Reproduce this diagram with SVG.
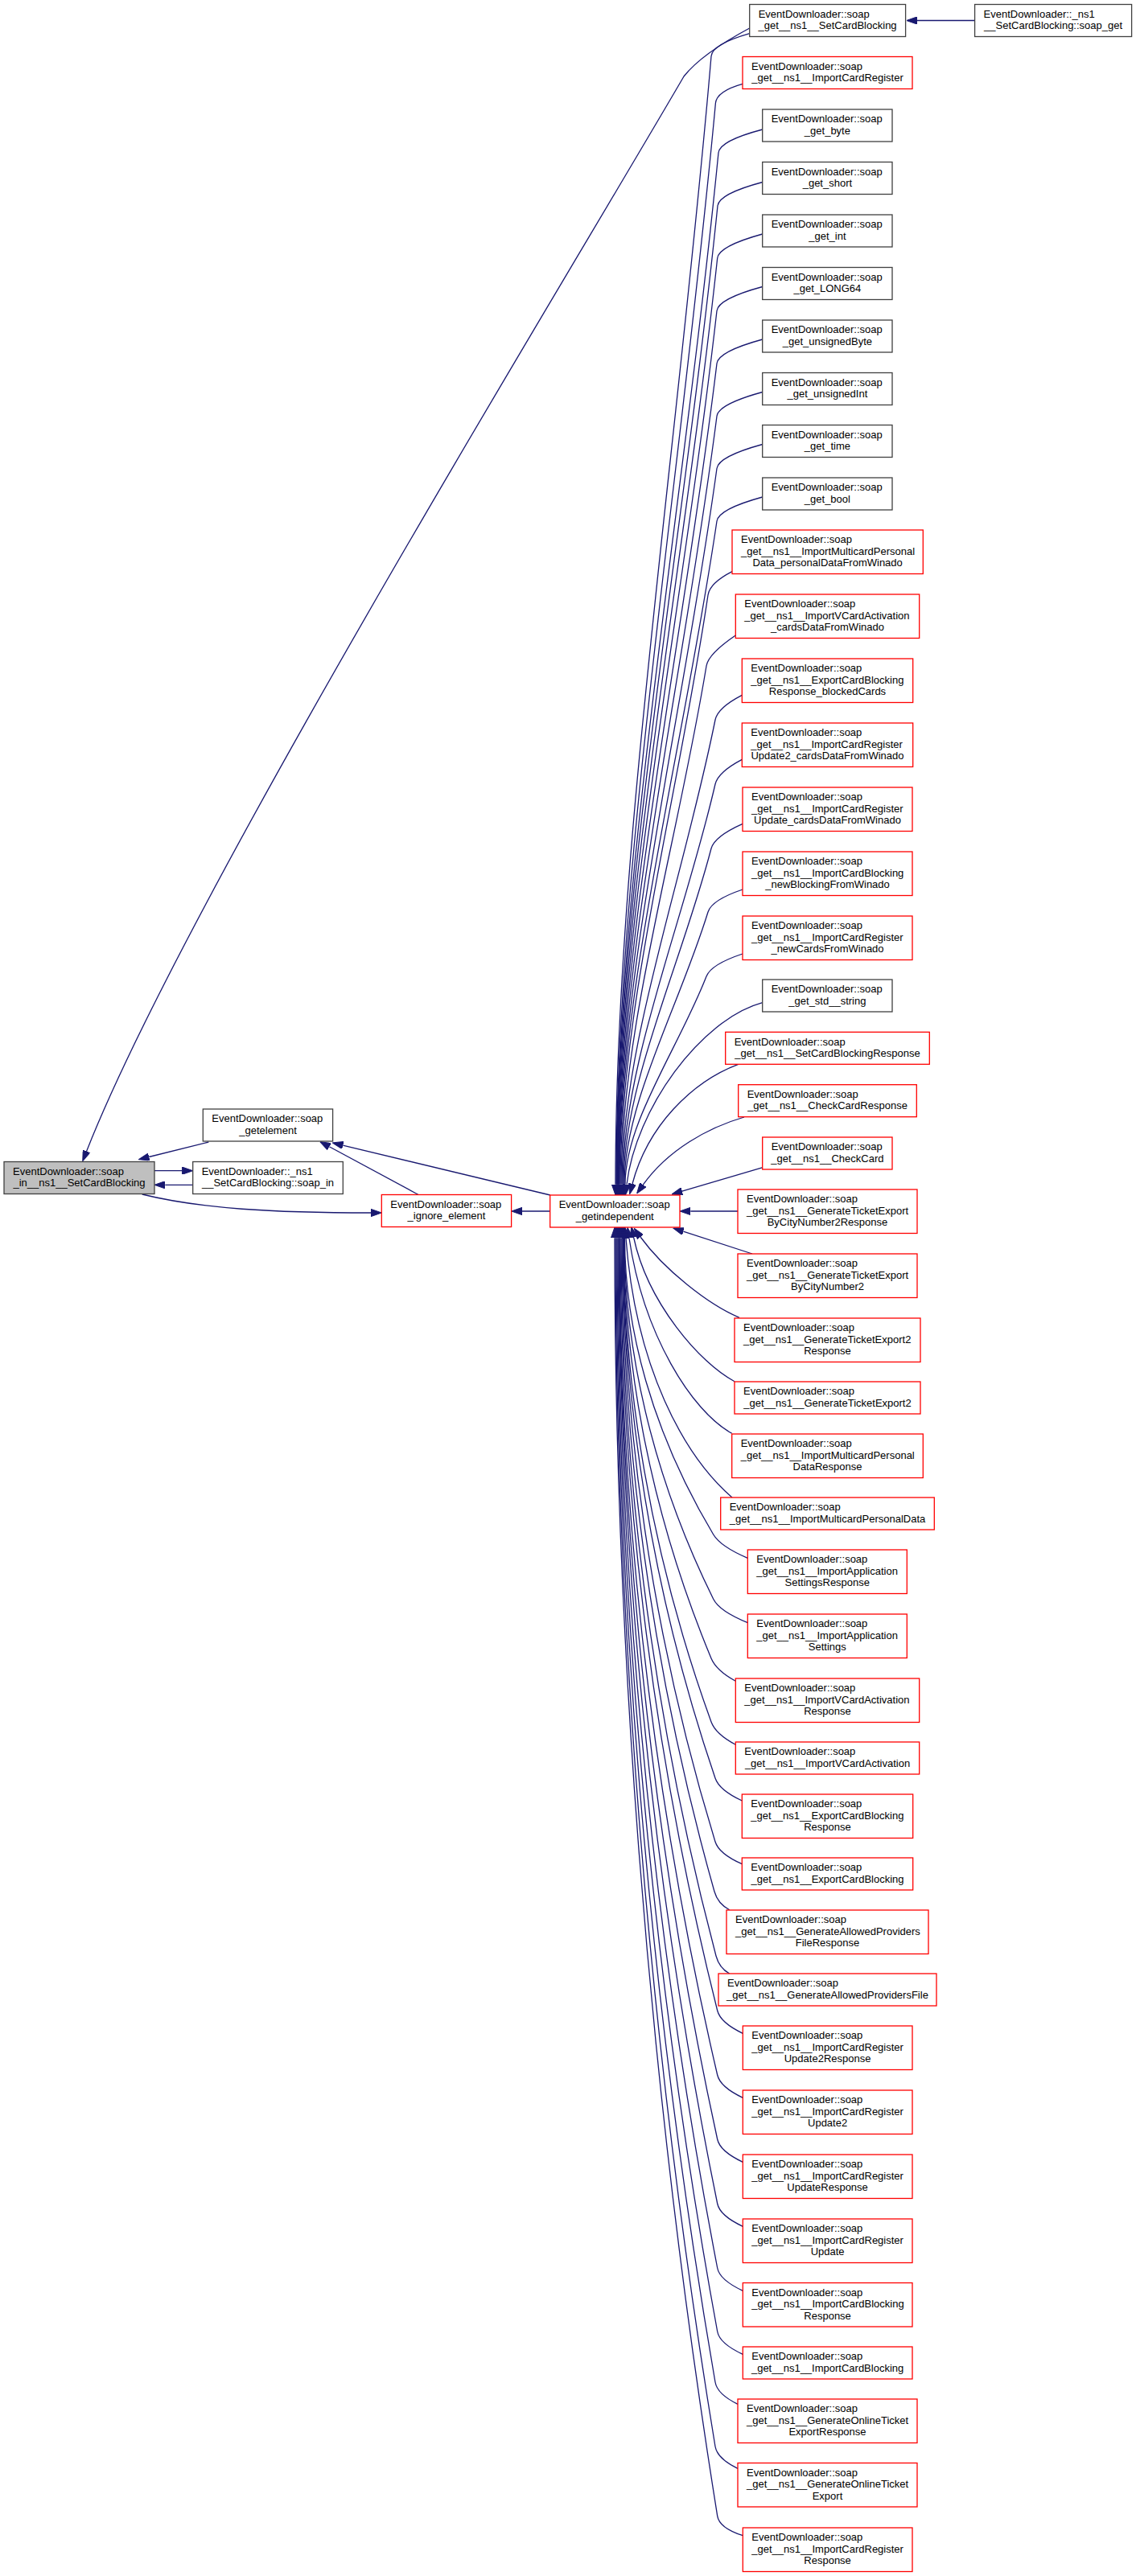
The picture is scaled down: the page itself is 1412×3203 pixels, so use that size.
<svg xmlns="http://www.w3.org/2000/svg" width="1412" height="3203" viewBox="0 0 1412 3203">
<defs>
<style>
.n{fill:#ffffff;stroke:#404040;stroke-width:1.3}
.r{fill:#ffffff;stroke:#ff0000;stroke-width:1.3}
.m{fill:#bfbfbf;stroke:#404040;stroke-width:1.3}
text{font-family:"Liberation Sans",Arial,Helvetica,sans-serif;font-size:13px;fill:#000000}
.c{text-anchor:middle}
.e{fill:none;stroke:#191970;stroke-width:1.3;marker-end:url(#ah)}
</style>
<marker id="ah" viewBox="0 0 13.3 9.3" refX="0" refY="4.65" markerWidth="13.3" markerHeight="9.3" markerUnits="userSpaceOnUse" orient="auto">
<path d="M0,0 L13.3,4.65 L0,9.3 z" fill="#191970" stroke="#191970" stroke-width="1"/>
</marker>
</defs>
<rect width="1412" height="3203" fill="#ffffff"/>
<g id="edges">
<path class="e" d="M1211.6,25.5 L1140,25.5"/>
<path class="e" d="M931.7,35 C900,52 868,72 850,95 C690,370 230,1120 107.6,1431.4"/>
<path class="e" d="M259.3,1420 L185.2,1438.5"/>
<path class="e" d="M192,1455.7 L226.4,1455.7"/>
<path class="e" d="M239.7,1473.3 L205.3,1473.3"/>
<path class="e" d="M176.7,1485 C250,1503 340,1508 461,1508"/>
<path class="e" d="M520,1485.5 L409.3,1425.8"/>
<path class="e" d="M683.9,1486 L426.2,1424.1"/>
<path class="e" d="M683.9,1506 L649,1506"/>
<path class="e" d="M931.7,41.7 Q885.3,55 884,70 C842.4,560.9 765,1051.9 765,1472.7"/>
<path class="e" d="M923,104.3 Q890.8,113.3 889.4,128.3 C846.2,598.8 766,1069.4 766,1472.7"/>
<path class="e" d="M947.7,161 Q894.5,175 893,190 C848.7,639 766.5,1087.9 766.5,1472.7"/>
<path class="e" d="M947.7,226.5 Q893.5,241 892,256 C848.3,681.8 767,1107.7 767,1472.7"/>
<path class="e" d="M947.7,291 Q893.3,306 891.7,321 C848.2,724.1 767.5,1127.2 767.5,1472.7"/>
<path class="e" d="M947.7,356.5 Q892.7,371.5 891,386.5 C848,766.7 768,1146.8 768,1472.7"/>
<path class="e" d="M947.7,422 Q892.8,437 891,452 C848.1,809.2 768.5,1166.5 768.5,1472.7"/>
<path class="e" d="M947.7,487.5 Q892.9,502.5 891,517.5 C848.3,851.8 769,1186.1 769,1472.7"/>
<path class="e" d="M947.7,552.5 Q893,567.5 891,582.5 C848.5,894.1 769.5,1205.6 769.5,1472.7"/>
<path class="e" d="M947.7,618 Q893.2,633 891,648 C848.7,936.6 770,1225.3 770,1472.7"/>
<path class="e" d="M910,710.7 Q882.2,725 880,740 C841.9,996.4 771,1252.9 771,1472.7"/>
<path class="e" d="M914.3,790 Q880.5,813 878,828 C840.9,1053.6 772,1279.3 772,1472.7"/>
<path class="e" d="M922.3,864.3 Q892,880 889,895 C848.4,1097.2 773,1299.4 773,1472.7"/>
<path class="e" d="M922.3,944.3 Q892.5,960 889,975 C848.8,1149.2 774,1323.4 774,1472.7"/>
<path class="e" d="M923,1024.3 Q887.9,1040 884,1055 C845.9,1201.2 775,1347.4 775,1472.7"/>
<path class="e" d="M923,1106 Q884.6,1119 880,1134 C843.6,1252.5 776,1371.1 776,1472.7"/>
<path class="e" d="M923,1186 Q883.9,1199 878,1214 C842.7,1304.5 777,1395.1 777,1472.7"/>
<path class="e" d="M947.7,1246.7 C870,1268 790,1380 779,1472.7"/>
<path class="e" d="M917.7,1323.3 C860,1345 805,1400 786,1472"/>
<path class="e" d="M925,1389 C880,1402 830,1430 799.3,1473.2"/>
<path class="e" d="M948,1451.7 L847.8,1481.2"/>
<path class="e" d="M917,1506 L858.3,1506"/>
<path class="e" d="M935,1559 L849.3,1531.1"/>
<path class="e" d="M919,1638.3 C880,1622 825,1578 796,1538"/>
<path class="e" d="M913,1717.7 C870,1695 805,1620 787.6,1538.5"/>
<path class="e" d="M909.7,1782.3 C860,1755 800,1660 782,1539.5"/>
<path class="e" d="M910,1862 C850,1810 790,1700 778,1539.5"/>
<path class="e" d="M929.3,1937.3 Q895.7,1923 886.7,1908 C809.6,1778.9 776.5,1649.9 776.5,1539.3"/>
<path class="e" d="M929.3,2017.7 Q894.1,2003.3 886.7,1988.3 C809.2,1831.2 776,1674 776,1539.3"/>
<path class="e" d="M914.3,2090.3 Q890.2,2077 884,2062 C808,1879.1 775.5,1696.1 775.5,1539.3"/>
<path class="e" d="M914.3,2169.3 Q889.4,2156 884,2141 C807.7,1930.4 775,1719.8 775,1539.3"/>
<path class="e" d="M922.3,2239 Q894.1,2226 889,2211 C808.9,1975.9 774.5,1740.8 774.5,1539.3"/>
<path class="e" d="M922.3,2317.7 Q893.6,2305 889,2290 C808.5,2027.3 774,1764.5 774,1539.3"/>
<path class="e" d="M906.7,2374.7 Q892.2,2367 888,2352 C807.5,2067.6 773,1783.1 773,1539.3"/>
<path class="e" d="M906.7,2454 Q894,2447 890,2432 C807.4,2119.6 772,1807.1 772,1539.3"/>
<path class="e" d="M923.3,2528.3 Q895.5,2515 891.7,2500 C807.2,2163.8 771,1827.5 771,1539.3"/>
<path class="e" d="M923.3,2608.3 Q895.2,2595 891.7,2580 C806.5,2215.8 770,1851.5 770,1539.3"/>
<path class="e" d="M923.3,2688.3 Q895,2675 891.7,2660 C806.2,2267.8 769.5,1875.5 769.5,1539.3"/>
<path class="e" d="M923.3,2768.3 Q894.8,2755 891.7,2740 C805.8,2319.8 769,1899.5 769,1539.3"/>
<path class="e" d="M923.3,2848.3 Q894.6,2835 891.7,2820 C805.1,2371.8 768,1923.5 768,1539.3"/>
<path class="e" d="M923.3,2927.3 Q894.4,2914 891.7,2899 C804.4,2423.1 767,1947.2 767,1539.3"/>
<path class="e" d="M917,2989.3 Q891.6,2977 889,2962 C802.9,2464.1 766,1966.1 766,1539.3"/>
<path class="e" d="M917,3069.3 Q891.5,3057 889,3042 C802.2,2516.1 765,1990.1 765,1539.3"/>
<path class="e" d="M923.3,3152.7 Q894.1,3143.3 891.7,3128.3 C802.3,2572.2 764,2016 764,1539.3"/>
</g>
<g id="node_main"><rect class="m" x="5" y="1444.5" width="187" height="40"/><text x="16" y="1460.9">EventDownloader::soap</text><text class="c" x="98.5" y="1475.2">_in__ns1__SetCardBlocking</text></g>
<g id="node_getelement"><rect class="n" x="252.3" y="1379" width="161.3" height="40"/><text x="263.3" y="1395.4">EventDownloader::soap</text><text class="c" x="333" y="1409.7">_getelement</text></g>
<g id="node_soap_in"><rect class="n" x="239.7" y="1444.5" width="186.6" height="40"/><text x="250.7" y="1460.9">EventDownloader::_ns1</text><text class="c" x="333" y="1475.2">__SetCardBlocking::soap_in</text></g>
<g id="node_ignore_element"><rect class="r" x="474.3" y="1485.5" width="161.3" height="40"/><text x="485.3" y="1501.9">EventDownloader::soap</text><text class="c" x="555" y="1516.2">_ignore_element</text></g>
<g id="node_getindependent"><rect class="r" x="683.7" y="1486" width="161.3" height="40"/><text x="694.7" y="1502.4">EventDownloader::soap</text><text class="c" x="764.3" y="1516.7">_getindependent</text></g>
<g id="node_soap_get"><rect class="n" x="1211.6" y="5.5" width="195" height="40"/><text x="1222.6" y="21.9">EventDownloader::_ns1</text><text class="c" x="1309.1" y="36.2">__SetCardBlocking::soap_get</text></g>
<g id="n1"><rect class="n" x="931.7" y="5.5" width="193.9" height="40"/><text x="942.7" y="21.9">EventDownloader::soap</text><text class="c" x="1028.6" y="36.2">_get__ns1__SetCardBlocking</text></g>
<g id="n2"><rect class="r" x="923" y="70.5" width="211" height="40"/><text x="934" y="86.9">EventDownloader::soap</text><text class="c" x="1028.5" y="101.2">_get__ns1__ImportCardRegister</text></g>
<g id="n3"><rect class="n" x="947.7" y="136" width="161.3" height="40"/><text x="958.7" y="152.4">EventDownloader::soap</text><text class="c" x="1028.4" y="166.7">_get_byte</text></g>
<g id="n4"><rect class="n" x="947.7" y="201.5" width="161.3" height="40"/><text x="958.7" y="217.9">EventDownloader::soap</text><text class="c" x="1028.4" y="232.2">_get_short</text></g>
<g id="n5"><rect class="n" x="947.7" y="267" width="161.3" height="40"/><text x="958.7" y="283.4">EventDownloader::soap</text><text class="c" x="1028.4" y="297.7">_get_int</text></g>
<g id="n6"><rect class="n" x="947.7" y="332.5" width="161.3" height="40"/><text x="958.7" y="348.9">EventDownloader::soap</text><text class="c" x="1028.4" y="363.2">_get_LONG64</text></g>
<g id="n7"><rect class="n" x="947.7" y="398" width="161.3" height="40"/><text x="958.7" y="414.4">EventDownloader::soap</text><text class="c" x="1028.4" y="428.7">_get_unsignedByte</text></g>
<g id="n8"><rect class="n" x="947.7" y="463.5" width="161.3" height="40"/><text x="958.7" y="479.9">EventDownloader::soap</text><text class="c" x="1028.4" y="494.2">_get_unsignedInt</text></g>
<g id="n9"><rect class="n" x="947.7" y="528.5" width="161.3" height="40"/><text x="958.7" y="544.9">EventDownloader::soap</text><text class="c" x="1028.4" y="559.2">_get_time</text></g>
<g id="n10"><rect class="n" x="947.7" y="594" width="161.3" height="40"/><text x="958.7" y="610.4">EventDownloader::soap</text><text class="c" x="1028.4" y="624.7">_get_bool</text></g>
<g id="n11"><rect class="r" x="910" y="659" width="237.3" height="54.5"/><text x="921" y="675.4">EventDownloader::soap</text><text x="921" y="689.7">_get__ns1__ImportMulticardPersonal</text><text class="c" x="1028.6" y="704">Data_personalDataFromWinado</text></g>
<g id="n12"><rect class="r" x="914.3" y="739" width="228.4" height="54.5"/><text x="925.3" y="755.4">EventDownloader::soap</text><text x="925.3" y="769.7">_get__ns1__ImportVCardActivation</text><text class="c" x="1028.5" y="784">_cardsDataFromWinado</text></g>
<g id="n13"><rect class="r" x="922.3" y="819" width="212.4" height="54.5"/><text x="933.3" y="835.4">EventDownloader::soap</text><text x="933.3" y="849.7">_get__ns1__ExportCardBlocking</text><text class="c" x="1028.5" y="864">Response_blockedCards</text></g>
<g id="n14"><rect class="r" x="922.3" y="899" width="212.4" height="54.5"/><text x="933.3" y="915.4">EventDownloader::soap</text><text x="933.3" y="929.7">_get__ns1__ImportCardRegister</text><text class="c" x="1028.5" y="944">Update2_cardsDataFromWinado</text></g>
<g id="n15"><rect class="r" x="923" y="979" width="211" height="54.5"/><text x="934" y="995.4">EventDownloader::soap</text><text x="934" y="1009.7">_get__ns1__ImportCardRegister</text><text class="c" x="1028.5" y="1024">Update_cardsDataFromWinado</text></g>
<g id="n16"><rect class="r" x="923" y="1059" width="211" height="54.5"/><text x="934" y="1075.4">EventDownloader::soap</text><text x="934" y="1089.7">_get__ns1__ImportCardBlocking</text><text class="c" x="1028.5" y="1104">_newBlockingFromWinado</text></g>
<g id="n17"><rect class="r" x="923" y="1139" width="211" height="54.5"/><text x="934" y="1155.4">EventDownloader::soap</text><text x="934" y="1169.7">_get__ns1__ImportCardRegister</text><text class="c" x="1028.5" y="1184">_newCardsFromWinado</text></g>
<g id="n18"><rect class="n" x="947.7" y="1218" width="161.3" height="40"/><text x="958.7" y="1234.4">EventDownloader::soap</text><text class="c" x="1028.4" y="1248.7">_get_std__string</text></g>
<g id="n19"><rect class="r" x="901.7" y="1283.3" width="253.6" height="40"/><text x="912.7" y="1299.7">EventDownloader::soap</text><text class="c" x="1028.5" y="1314">_get__ns1__SetCardBlockingResponse</text></g>
<g id="n20"><rect class="r" x="917.7" y="1348.7" width="221.6" height="40"/><text x="928.7" y="1365.1">EventDownloader::soap</text><text class="c" x="1028.5" y="1379.4">_get__ns1__CheckCardResponse</text></g>
<g id="n21"><rect class="r" x="947.7" y="1414" width="161.3" height="40"/><text x="958.7" y="1430.4">EventDownloader::soap</text><text class="c" x="1028.4" y="1444.7">_get__ns1__CheckCard</text></g>
<g id="n22"><rect class="r" x="917" y="1479" width="223" height="54.5"/><text x="928" y="1495.4">EventDownloader::soap</text><text x="928" y="1509.7">_get__ns1__GenerateTicketExport</text><text class="c" x="1028.5" y="1524">ByCityNumber2Response</text></g>
<g id="n23"><rect class="r" x="917" y="1559" width="223" height="54.5"/><text x="928" y="1575.4">EventDownloader::soap</text><text x="928" y="1589.7">_get__ns1__GenerateTicketExport</text><text class="c" x="1028.5" y="1604">ByCityNumber2</text></g>
<g id="n24"><rect class="r" x="913" y="1639" width="231" height="54.5"/><text x="924" y="1655.4">EventDownloader::soap</text><text x="924" y="1669.7">_get__ns1__GenerateTicketExport2</text><text class="c" x="1028.5" y="1684">Response</text></g>
<g id="n25"><rect class="r" x="913" y="1718" width="231" height="40"/><text x="924" y="1734.4">EventDownloader::soap</text><text class="c" x="1028.5" y="1748.7">_get__ns1__GenerateTicketExport2</text></g>
<g id="n26"><rect class="r" x="909.7" y="1783" width="237.6" height="54.5"/><text x="920.7" y="1799.4">EventDownloader::soap</text><text x="920.7" y="1813.7">_get__ns1__ImportMulticardPersonal</text><text class="c" x="1028.5" y="1828">DataResponse</text></g>
<g id="n27"><rect class="r" x="895.7" y="1862" width="265.6" height="40"/><text x="906.7" y="1878.4">EventDownloader::soap</text><text class="c" x="1028.5" y="1892.7">_get__ns1__ImportMulticardPersonalData</text></g>
<g id="n28"><rect class="r" x="929.3" y="1927" width="198" height="54.5"/><text x="940.3" y="1943.4">EventDownloader::soap</text><text x="940.3" y="1957.7">_get__ns1__ImportApplication</text><text class="c" x="1028.3" y="1972">SettingsResponse</text></g>
<g id="n29"><rect class="r" x="929.3" y="2007" width="198" height="54.5"/><text x="940.3" y="2023.4">EventDownloader::soap</text><text x="940.3" y="2037.7">_get__ns1__ImportApplication</text><text class="c" x="1028.3" y="2052">Settings</text></g>
<g id="n30"><rect class="r" x="914.3" y="2087" width="228.4" height="54.5"/><text x="925.3" y="2103.4">EventDownloader::soap</text><text x="925.3" y="2117.7">_get__ns1__ImportVCardActivation</text><text class="c" x="1028.5" y="2132">Response</text></g>
<g id="n31"><rect class="r" x="914.3" y="2166" width="228.4" height="40"/><text x="925.3" y="2182.4">EventDownloader::soap</text><text class="c" x="1028.5" y="2196.7">_get__ns1__ImportVCardActivation</text></g>
<g id="n32"><rect class="r" x="922.3" y="2231" width="212.4" height="54.5"/><text x="933.3" y="2247.4">EventDownloader::soap</text><text x="933.3" y="2261.7">_get__ns1__ExportCardBlocking</text><text class="c" x="1028.5" y="2276">Response</text></g>
<g id="n33"><rect class="r" x="922.3" y="2310" width="212.4" height="40"/><text x="933.3" y="2326.4">EventDownloader::soap</text><text class="c" x="1028.5" y="2340.7">_get__ns1__ExportCardBlocking</text></g>
<g id="n34"><rect class="r" x="903" y="2375" width="251" height="54.5"/><text x="914" y="2391.4">EventDownloader::soap</text><text x="914" y="2405.7">_get__ns1__GenerateAllowedProviders</text><text class="c" x="1028.5" y="2420">FileResponse</text></g>
<g id="n35"><rect class="r" x="893" y="2454" width="271" height="40"/><text x="904" y="2470.4">EventDownloader::soap</text><text class="c" x="1028.5" y="2484.7">_get__ns1__GenerateAllowedProvidersFile</text></g>
<g id="n36"><rect class="r" x="923.3" y="2519" width="210.7" height="54.5"/><text x="934.3" y="2535.4">EventDownloader::soap</text><text x="934.3" y="2549.7">_get__ns1__ImportCardRegister</text><text class="c" x="1028.6" y="2564">Update2Response</text></g>
<g id="n37"><rect class="r" x="923.3" y="2599" width="210.7" height="54.5"/><text x="934.3" y="2615.4">EventDownloader::soap</text><text x="934.3" y="2629.7">_get__ns1__ImportCardRegister</text><text class="c" x="1028.6" y="2644">Update2</text></g>
<g id="n38"><rect class="r" x="923.3" y="2679" width="210.7" height="54.5"/><text x="934.3" y="2695.4">EventDownloader::soap</text><text x="934.3" y="2709.7">_get__ns1__ImportCardRegister</text><text class="c" x="1028.6" y="2724">UpdateResponse</text></g>
<g id="n39"><rect class="r" x="923.3" y="2759" width="210.7" height="54.5"/><text x="934.3" y="2775.4">EventDownloader::soap</text><text x="934.3" y="2789.7">_get__ns1__ImportCardRegister</text><text class="c" x="1028.6" y="2804">Update</text></g>
<g id="n40"><rect class="r" x="923.3" y="2838.5" width="210.7" height="54.5"/><text x="934.3" y="2854.9">EventDownloader::soap</text><text x="934.3" y="2869.2">_get__ns1__ImportCardBlocking</text><text class="c" x="1028.6" y="2883.5">Response</text></g>
<g id="n41"><rect class="r" x="923.3" y="2918" width="210.7" height="40"/><text x="934.3" y="2934.4">EventDownloader::soap</text><text class="c" x="1028.6" y="2948.7">_get__ns1__ImportCardBlocking</text></g>
<g id="n42"><rect class="r" x="917" y="2983" width="223" height="54.5"/><text x="928" y="2999.4">EventDownloader::soap</text><text x="928" y="3013.7">_get__ns1__GenerateOnlineTicket</text><text class="c" x="1028.5" y="3028">ExportResponse</text></g>
<g id="n43"><rect class="r" x="917" y="3062.5" width="223" height="54.5"/><text x="928" y="3078.9">EventDownloader::soap</text><text x="928" y="3093.2">_get__ns1__GenerateOnlineTicket</text><text class="c" x="1028.5" y="3107.5">Export</text></g>
<g id="n44"><rect class="r" x="923.3" y="3143" width="210.7" height="54.5"/><text x="934.3" y="3159.4">EventDownloader::soap</text><text x="934.3" y="3173.7">_get__ns1__ImportCardRegister</text><text class="c" x="1028.6" y="3188">Response</text></g>
</svg>
